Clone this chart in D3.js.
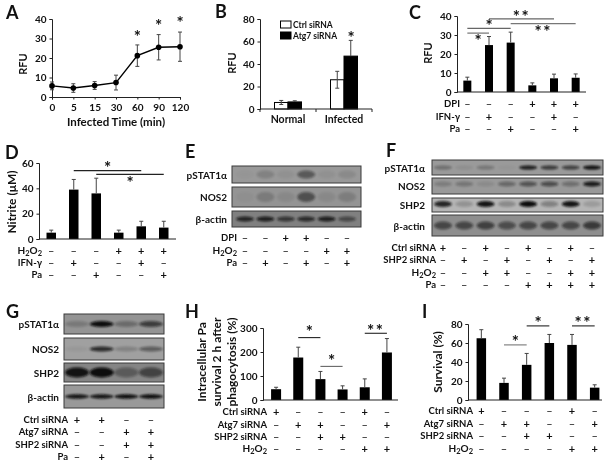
<!DOCTYPE html>
<html>
<head>
<meta charset="utf-8">
<script src="https://cdnjs.cloudflare.com/ajax/libs/d3/7.8.5/d3.min.js"></script>
<style>
    html, body { margin: 0; padding: 0; background: #fff; }
    svg { display: block; filter: blur(0.35px); }
    text { font-family: Lato, "Open Sans", sans-serif; font-weight: 700; fill: #111; }
</style>
</head>
<body>
<svg id="chart" width="612" height="465"></svg>
<script>
// panel A
const aTimes = ["0", "5", "15", "30", "60", "90", "120"];
const aRfu = [5.7, 4.6, 5.9, 7.4, 21.2, 25.5, 25.8];
const aErr = [2, 2.2, 2, 3.8, 5.5, 6.5, 7.5];
const aStars = [null, null, null, null, 32, 37.5, 39];

// panel B
const bGroups = ["Normal", "Infected"];
const bSeries = ["Ctrl siRNA", "Atg7 siRNA"];
const bCtrl = [5.8, 26];
const bAtg7 = [6.3, 47];
const bCtrlErr = [1.8, 7.5];
const bAtg7Err = [1, 14];

// panel C
const cRfu = [6, 24.7, 26, 3.5, 7.2, 7.5];
const cErr = [1.8, 4.5, 5.5, 1.3, 2.2, 2];
const cRows = [["DPI", "---+++"], ["IFN-γ", "-+--+-"], ["Pa", "--+--+"]];
const cSig = [
    { from: 1, to: 4, level: 38.5, mark: "**", at: 2.5, markLevel: 41, color: "#666" },
    { from: 2, to: 5, level: 36, mark: "**", at: 3.5, markLevel: 33, color: "#777" },
    { from: 0, to: 2, level: 33.5, mark: "*", at: 1, markLevel: 36, color: "#666" },
    { from: 0, to: 1, level: 31, mark: "*", at: 0.5, markLevel: 28, color: "#666" }
];

// panel D
const dNitrite = [5, 39, 36, 5, 10, 9];
const dErr = [2, 8, 12, 2, 4, 5];
const dRows = [["H2O2", "---+++"], ["IFN-γ", "-+--+-"], ["Pa", "--+--+"]];
const dSig = [
    { from: 1, to: 4, level: 54, mark: "*", at: 2.5, markLevel: 58, color: "#222" },
    { from: 2, to: 5, level: 51, mark: "*", at: 3.5, markLevel: 46, color: "#222" }
];

// panel H
const hSurvival = [45, 177, 87, 44, 53, 198];
const hErr = [8, 43, 32, 15, 35, 58];
const hRows = [["Ctrl siRNA", "+---+-"], ["Atg7 siRNA", "-++--+"], ["SHP2 siRNA", "--++--"], ["H2O2", "----++"]];
const hSig = [
    { from: 1, to: 2, level: 260, mark: "*", at: 1.5, markLevel: 295, color: "#222" },
    { from: 2, to: 3, level: 140, mark: "*", at: 2.5, markLevel: 172, color: "#666" },
    { from: 4, to: 5, level: 278, mark: "**", at: 4.5, markLevel: 300, color: "#222" }
];

// panel I
const iSurvival = [65, 18, 37, 60, 58, 13];
const iErr = [9, 5, 12, 9, 11, 3];
const iRows = [["Ctrl siRNA", "+---+-"], ["Atg7 siRNA", "-++--+"], ["SHP2 siRNA", "--++--"], ["H2O2", "----++"]];
const iSig = [
    { from: 1, to: 2, level: 58, mark: "*", at: 1.5, markLevel: 64, color: "#777" },
    { from: 2, to: 3, level: 78, mark: "*", at: 2.5, markLevel: 84, color: "#222" },
    { from: 4, to: 5, level: 78, mark: "**", at: 4.5, markLevel: 84, color: "#222" }
];

// blots: band strength per lane
const eBlots = [
    { name: "pSTAT1α", bands: [0.02, 0.16, 0.05, 0.45, 0.05, 0.1] },
    { name: "NOS2", bands: [0.03, 0.18, 0.08, 0.5, 0.08, 0.16] },
    { name: "β-actin", bands: [0.8, 0.85, 0.65, 0.75, 0.85, 0.5] }
];
const eRows = [["DPI", "--++--"], ["H2O2", "----++"], ["Pa", "-+-+-+"]];

const fBlots = [
    { name: "pSTAT1α", bands: [0.3, 0.08, 0.25, 0.03, 0.9, 0.7, 0.65, 1] },
    { name: "NOS2", bands: [0.2, 0.25, 0.1, 0.35, 0.5, 0.55, 0.3, 0.9] },
    { name: "SHP2", bands: [0.85, 0.2, 0.95, 0.25, 1, 0.3, 0.95, 0.15] },
    { name: "β-actin", bands: [0.55, 0.55, 0.6, 0.5, 0.55, 0.55, 0.55, 0.65] }
];
const fRows = [["Ctrl siRNA", "+-+-+-+-"], ["SHP2 siRNA", "-+-+-+-+"], ["H2O2", "--++--++"], ["Pa", "----++++"]];

const gBlots = [
    { name: "pSTAT1α", bands: [0.2, 1, 0.3, 0.65] },
    { name: "NOS2", bands: [0.05, 0.8, 0.2, 0.45] },
    { name: "SHP2", bands: [0.95, 1, 0.35, 0.55] },
    { name: "β-actin", bands: [0.95, 0.95, 1, 1] }
];
const gRows = [["Ctrl siRNA", "++--"], ["Atg7 siRNA", "--++"], ["SHP2 siRNA", "--++"], ["Pa", "-+-+"]];

const svg = d3.select("#chart");
const defs = svg.append("defs");
defs.append("filter").attr("id", "soft").attr("x", "-40%").attr("y", "-80%").attr("width", "180%").attr("height", "260%")
    .append("feGaussianBlur").attr("stdDeviation", 1.3);

function label(x, y, txt, size, anchor) {
    return svg.append("text").attr("x", x).attr("y", y).attr("font-size", size)
        .attr("text-anchor", anchor || "middle").attr("dominant-baseline", "central").text(txt);
}

function vLabel(x, y, txt, size) {
    return svg.append("text").attr("transform", `translate(${x},${y}) rotate(-90)`)
        .attr("font-size", size).attr("text-anchor", "middle").attr("dominant-baseline", "central").text(txt);
}

function letter(x, y, txt) {
    svg.append("text").attr("x", x).attr("y", y).attr("font-size", 18).text(txt);
}

function star(x, y, mark, size) {
    // the asterisk glyph sits high in its box, so shift it down
    const s = size || 17;
    svg.append("text").attr("x", x).attr("y", y + s * 0.5).attr("font-size", s)
        .attr("text-anchor", "middle").attr("letter-spacing", mark.length > 1 ? 1.5 : 0).text(mark);
}

function yAxis(y, x, ticks, size) {
    const g = svg.append("g").attr("transform", `translate(${x},0)`)
        .call(d3.axisLeft(y).tickValues(ticks).tickSize(2.5).tickPadding(3));
    g.selectAll("text").attr("font-size", size || 10).style("font-family", "Lato").style("font-weight", 700);
    g.selectAll("line,path").attr("stroke", "#222");
    return g;
}

function signRows(rows, x, ys, labelEnd, size) {
    rows.forEach(function(row, r) {
        const y = ys[r];
        if (row[0] === "H2O2") {
            const t = svg.append("text").attr("x", labelEnd).attr("y", y + 3.5).attr("font-size", size + 0.5).attr("text-anchor", "end");
            t.append("tspan").text("H");
            t.append("tspan").attr("font-size", size - 2).attr("dy", 2).text("2");
            t.append("tspan").attr("dy", -2).text("O");
            t.append("tspan").attr("font-size", size - 2).attr("dy", 2).text("2");
        } else {
            label(labelEnd, y, row[0], size, "end");
        }
        row[1].split("").forEach(function(s, i) {
            if (s === "+") label(x(i), y, "+", size + 1.5);
            else label(x(i), y, "–", size + 1.5).style("font-weight", 400);
        });
    });
}

function errBar(x, top, bottom, color) {
    svg.append("line").attr("x1", x).attr("x2", x).attr("y1", top).attr("y2", bottom).attr("stroke", color).attr("stroke-width", 1);
    svg.append("line").attr("x1", x - 2).attr("x2", x + 2).attr("y1", top).attr("y2", top).attr("stroke", color).attr("stroke-width", 1);
}

function barPanel(p) {
    const x = d3.scaleBand().domain(d3.range(p.values.length)).range(p.xRange);
    const y = d3.scaleLinear().domain([0, p.yMax]).range([p.yBottom, p.yTop]);
    const center = i => x(i) + x.bandwidth() / 2;
    yAxis(y, p.axisX, p.ticks, p.tickSize);
    svg.selectAll(null).data(p.values).enter().append("rect")
        .attr("x", (d, i) => center(i) - p.barW / 2).attr("width", p.barW)
        .attr("y", d => y(d)).attr("height", d => y(0) - y(d)).attr("fill", "#000");
    p.values.forEach((d, i) => {
        errBar(center(i), y(d + p.err[i]), y(d), "#444");
    });
    svg.append("line").attr("x1", p.axisX).attr("x2", p.axisEnd).attr("y1", y(0)).attr("y2", y(0)).attr("stroke", "#222").attr("stroke-width", 1.2);
    p.sig.forEach(s => {
        svg.append("line").attr("x1", center(s.from)).attr("x2", center(s.to))
            .attr("y1", y(s.level)).attr("y2", y(s.level)).attr("stroke", s.color).attr("stroke-width", 1.1);
        star(x(0) + x.bandwidth() / 2 + s.at * x.step(), y(s.markLevel), s.mark);
    });
    signRows(p.rows, center, p.rowYs, p.labelEnd, p.rowSize || 9.5);
}

function blotPanel(p) {
    const x = d3.scalePoint().domain(d3.range(p.blots[0].bands.length)).range(p.lanes);
    p.blots.forEach((b, k) => {
        const [y0, y1] = p.boxes[k];
        const mid = (y0 + y1) / 2 + (p.shift ? p.shift[k] : 0);
        svg.append("rect").attr("x", p.xRange[0]).attr("y", y0).attr("width", p.xRange[1] - p.xRange[0]).attr("height", y1 - y0)
            .attr("fill", p.bg[k]).attr("stroke", "#3a3a3a").attr("stroke-width", 1);
        svg.append("g").selectAll("ellipse").data(b.bands).enter().append("ellipse")
            .attr("cx", (d, i) => x(i)).attr("cy", mid).attr("rx", p.rx).attr("ry", p.ry[k])
            .attr("fill", "#0b0b0b").attr("opacity", d => d).attr("filter", "url(#soft)");
        label(p.nameEnd, (y0 + y1) / 2, b.name, p.nameSize || 10, "end");
    });
    signRows(p.rows, x, p.rowYs, p.labelEnd, p.rowSize || 9.5);
}

// A: time course
(function() {
    const x = d3.scalePoint().domain(aTimes).range([52, 180]);
    const y = d3.scaleLinear().domain([0, 40]).range([97, 19]);
    yAxis(y, 52, [0, 10, 20, 30, 40]);
    const gx = svg.append("g").attr("transform", "translate(0,97)").call(d3.axisBottom(x).tickSize(2.5).tickPadding(4));
    gx.selectAll("text").attr("font-size", 10).style("font-family", "Lato").style("font-weight", 700);
    gx.selectAll("line,path").attr("stroke", "#222");
    aRfu.forEach((d, i) => {
        const cx = x(aTimes[i]);
        svg.append("line").attr("x1", cx).attr("x2", cx).attr("y1", y(d + aErr[i])).attr("y2", y(d - aErr[i])).attr("stroke", "#444");
        [d + aErr[i], d - aErr[i]].forEach(v => {
            svg.append("line").attr("x1", cx - 2).attr("x2", cx + 2).attr("y1", y(v)).attr("y2", y(v)).attr("stroke", "#444");
        });
        if (aStars[i]) star(cx, y(aStars[i]), "*");
    });
    svg.append("path").datum(aRfu).attr("fill", "none").attr("stroke", "#000").attr("stroke-width", 1.4)
        .attr("d", d3.line().x((d, i) => x(aTimes[i])).y(d => y(d)));
    svg.selectAll(null).data(aRfu).enter().append("circle")
        .attr("cx", (d, i) => x(aTimes[i])).attr("cy", d => y(d)).attr("r", 2.8).attr("fill", "#000");
    vLabel(22, 64, "RFU", 11);
    label(116, 121, "Infected Time (min)", 11.5);
})();

// B: grouped bars
(function() {
    const x = d3.scaleBand().domain(bGroups).range([260, 372]);
    const inner = d3.scaleBand().domain(bSeries).range([0, 27]);
    const y = d3.scaleLinear().domain([0, 80]).range([109, 19]);
    yAxis(y, 260, [0, 20, 40, 60, 80]);
    const groupLeft = g => x(g) + x.bandwidth() / 2 - 13.5;
    [[bCtrl, bCtrlErr, bSeries[0], "#fff"], [bAtg7, bAtg7Err, bSeries[1], "#000"]].forEach(function(s) {
        s[0].forEach((d, i) => {
            const left = groupLeft(bGroups[i]) + inner(s[2]);
            svg.append("rect").attr("x", left).attr("width", inner.bandwidth()).attr("y", y(d)).attr("height", y(0) - y(d))
                .attr("fill", s[3]).attr("stroke", "#000").attr("stroke-width", 1);
            const cx = left + inner.bandwidth() / 2;
            const low = s[3] === "#fff" ? d - s[1][i] : d;
            errBar(cx, y(d + s[1][i]), y(low), "#444");
            if (s[3] === "#fff") {
                svg.append("line").attr("x1", cx - 2).attr("x2", cx + 2).attr("y1", y(low)).attr("y2", y(low)).attr("stroke", "#444");
            }
        });
    });
    svg.append("line").attr("x1", 260).attr("x2", 372).attr("y1", y(0)).attr("y2", y(0)).attr("stroke", "#222").attr("stroke-width", 1.2);
    [260, x(bGroups[1]), 372].forEach(t => {
        svg.append("line").attr("x1", t).attr("x2", t).attr("y1", y(0)).attr("y2", y(0) + 3).attr("stroke", "#222");
    });
    bGroups.forEach(g => label(x(g) + x.bandwidth() / 2, 119, g, 10.5));
    star(351, 35, "*");
    vLabel(231, 63, "RFU", 11);
    bSeries.forEach((s, i) => {
        const ly = d3.scalePoint().domain(bSeries).range([24.5, 35.5]);
        svg.append("rect").attr("x", 280.5).attr("y", ly(s) - 3.5).attr("width", 10.5).attr("height", 7)
            .attr("fill", i ? "#000" : "#fff").attr("stroke", "#000");
        label(293, ly(s), s, 8.5, "start");
    });
})();

barPanel({ values: cRfu, err: cErr, yMax: 40, yTop: 16, yBottom: 92, ticks: [0, 10, 20, 30, 40], axisX: 457, axisEnd: 586,
    xRange: [456.5, 586.5], barW: 8, sig: cSig, rows: cRows, rowYs: [103, 116, 128], labelEnd: 460 });
vLabel(427, 53, "RFU", 11);

barPanel({ values: dNitrite, err: dErr, yMax: 60, yTop: 163, yBottom: 239, ticks: [0, 20, 40, 60], axisX: 39, axisEnd: 176,
    xRange: [40, 175], barW: 9.5, sig: dSig, rows: dRows, rowYs: [250, 262, 274], labelEnd: 42 });
vLabel(11, 202, "Nitrite (μM)", 12);

blotPanel({ blots: eBlots, xRange: [232, 361], lanes: [245, 347], rx: 9, ry: [4, 5, 2.5],
    boxes: [[166, 183], [187, 207], [211, 227]], bg: ["#999", "#949494", "#808080"], nameEnd: 227,
    rows: eRows, rowYs: [237, 250, 262], labelEnd: 237 });

blotPanel({ blots: fBlots, xRange: [432, 603], lanes: [443, 592], rx: 9, ry: [2, 2.5, 3, 4],
    boxes: [[160, 175], [178, 194], [198, 212], [215, 236]], shift: [0, -2, -1, 0], bg: ["#9a9a9a", "#999", "#b5b5b5", "#8e8e8e"], nameEnd: 425,
    rows: fRows, rowYs: [247, 259, 272, 284], labelEnd: 436 });

blotPanel({ blots: gBlots, xRange: [64, 164], lanes: [77, 151], rx: 12, ry: [3, 2.5, 5, 2.2],
    boxes: [[314, 334], [338, 360], [363, 382], [385, 408]], bg: ["#949494", "#a0a0a0", "#858585", "#999"], nameEnd: 59,
    rows: gRows, rowYs: [419, 431, 444, 456], labelEnd: 68 });

barPanel({ values: hSurvival, err: hErr, yMax: 300, yTop: 328, yBottom: 400, ticks: [0, 100, 200, 300], axisX: 263, axisEnd: 398,
    xRange: [265, 398], barW: 10, sig: hSig, rows: hRows, rowYs: [411, 424, 436, 448], labelEnd: 267 });
vLabel(201, 362, "Intracellular  Pa", 12);
vLabel(216, 362, "survival 2 h after", 12);
vLabel(231, 362, "phagocytosis (%)", 12);

barPanel({ values: iSurvival, err: iErr, yMax: 80, yTop: 324, yBottom: 400, ticks: [0, 20, 40, 60, 80], axisX: 468, axisEnd: 602,
    xRange: [470, 606], barW: 9.5, sig: iSig, rows: iRows, rowYs: [410, 423, 435, 448], labelEnd: 473 });
vLabel(437, 362, "Survival (%)", 12);

letter(6, 19, "A");
letter(215, 18, "B");
letter(409, 19, "C");
letter(5, 159, "D");
letter(185, 158, "E");
letter(386, 157, "F");
letter(6, 318, "G");
letter(185, 318, "H");
letter(422, 318, "I");
</script>
</body>
</html>
